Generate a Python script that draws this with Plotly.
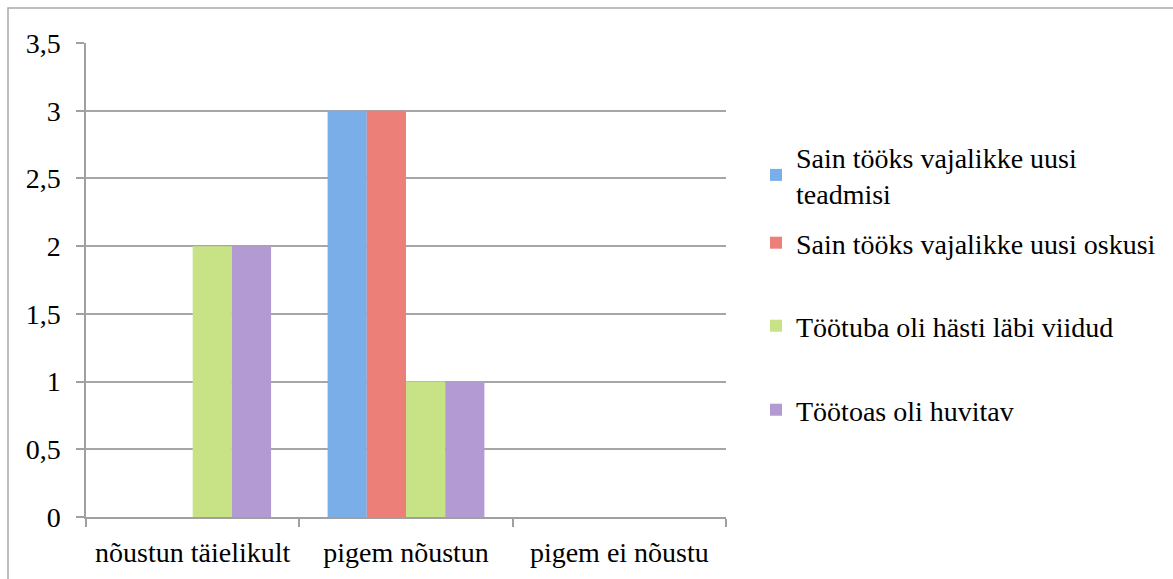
import plotly.graph_objects as go

categories = ["nõustun täielikult", "pigem nõustun", "pigem ei nõustu"]
series_names = [
    "Sain tööks vajalikke uusi<br>teadmisi",
    "Sain tööks vajalikke uusi oskusi",
    "Töötuba oli hästi läbi viidud",
    "Töötoas oli huvitav",
]
teadmisi = [0, 3, 0]
oskusi = [0, 3, 0]
labi_viidud = [2, 1, 0]
huvitav = [2, 1, 0]
y_tickvals = [0, 0.5, 1, 1.5, 2, 2.5, 3, 3.5]
y_ticktext = ["0", "0,5", "1", "1,5", "2", "2,5", "3", "3,5"]

colors = ["#79aee9", "#ec7f78", "#c8e385", "#b39ad2"]
values = [teadmisi, oskusi, labi_viidud, huvitav]
legend_ids = ["legend", "legend2", "legend3", "legend4"]
legend_centers_px = [175, 243, 326, 410]

FONT = "Liberation Serif"
FS = 28

W, H = 1173, 579
L, R, T, B = 86, 447, 43, 62
pw, ph = W - L - R, H - T - B

fig = go.Figure()
for name, vals, col, lid in zip(series_names, values, colors, legend_ids):
    fig.add_trace(go.Bar(
        x=categories, y=vals, name=name, legend=lid,
        marker=dict(color=col, line=dict(width=0)),
    ))

legends = {}
for lid, cy in zip(legend_ids, legend_centers_px):
    legends[lid] = dict(
        x=(756 - L) / pw, y=(H - B - cy) / ph, xanchor="left", yanchor="middle",
        font=dict(family=FONT, size=FS, color="#000000"),
        itemwidth=30, bgcolor="rgba(0,0,0,0)",
    )

fig.update_layout(
    width=W, height=H,
    margin=dict(l=L, r=R, t=T, b=B),
    paper_bgcolor="white", plot_bgcolor="white",
    barmode="group", bargap=0.265, bargroupgap=0,
    font=dict(family=FONT, size=FS, color="#000000"),
    showlegend=True,
    xaxis=dict(
        showgrid=False, showline=True, linecolor="#a0a0a0", linewidth=1.5,
        ticks="outside", ticklen=8, tickcolor="#a0a0a0", tickwidth=1.5,
        tickson="boundaries", ticklabelstandoff=10,
    ),
    yaxis=dict(
        range=[0, 3.5], tickvals=y_tickvals, ticktext=y_ticktext,
        showgrid=True, gridcolor="#a6a6a6", gridwidth=1.5,
        showline=True, linecolor="#a0a0a0", linewidth=1.5,
        ticks="outside", ticklen=8, tickcolor="#a0a0a0", tickwidth=1.5,
        zeroline=False, ticklabelstandoff=10,
    ),
    shapes=[dict(
        type="rect", xref="paper", yref="paper",
        x0=(8 - L) / pw, x1=(W + 20 - L) / pw,
        y0=(H - B - (H + 20)) / ph, y1=(H - B - 8) / ph,
        line=dict(color="#a9a9a9", width=1.5), layer="below",
    )],
    **legends,
)

fig.write_html("out.html", config={"displayModeBar": False},
               post_script="document.body.style.margin='0';")
